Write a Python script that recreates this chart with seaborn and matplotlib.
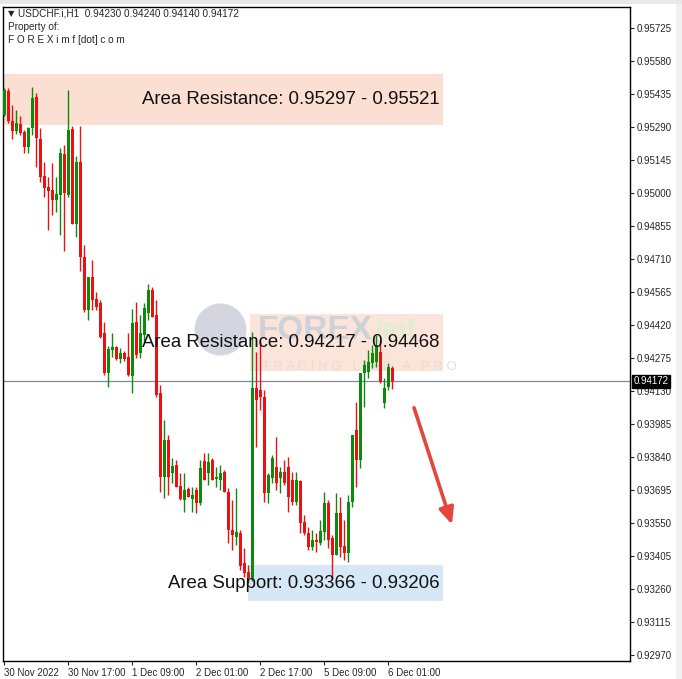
import numpy as np
import pandas as pd
import matplotlib
matplotlib.use("Agg")
import matplotlib.pyplot as plt
import seaborn as sns
from matplotlib.patches import Rectangle

# USDCHF H1 candles
opens = [0.95343, 0.95448, 0.95316, 0.95272, 0.95303, 0.95268, 0.95202, 0.95286, 0.95422, 0.95237,
         0.95075, 0.95026, 0.95013, 0.94969, 0.94991, 0.95171, 0.94991, 0.95281, 0.94864, 0.95136,
         0.94719, 0.94486, 0.94631, 0.94534, 0.94517, 0.94385, 0.94209, 0.94310, 0.94323, 0.94271,
         0.94297, 0.94279, 0.94196, 0.94433, 0.94297, 0.94376, 0.94473, 0.94574, 0.94464, 0.94121,
         0.93752, 0.93915, 0.93770, 0.93805, 0.93713, 0.93651, 0.93699, 0.93655, 0.93695, 0.93638,
         0.93822, 0.93770, 0.93827, 0.93743, 0.93739, 0.93774, 0.93686, 0.93519, 0.93488, 0.93506,
         0.93374, 0.93335, 0.93308, 0.94143, 0.94134, 0.94104, 0.93682, 0.93748, 0.93796, 0.93748,
         0.93774, 0.93796, 0.93739, 0.93642, 0.93735, 0.93554, 0.93506, 0.93444, 0.93475, 0.93462,
         0.93510, 0.93638, 0.93484, 0.93409, 0.93594, 0.93449, 0.93418, 0.93642, 0.93959, 0.93827,
         0.94209, 0.94213, 0.94253, 0.94257, 0.94301, 0.94077, 0.94148, 0.94230]
highs = [0.95461, 0.95461, 0.95387, 0.95365, 0.95338, 0.95277, 0.95290, 0.95466, 0.95439, 0.95286,
         0.95136, 0.95070, 0.95132, 0.95070, 0.95198, 0.95211, 0.95453, 0.95294, 0.95163, 0.95294,
         0.94772, 0.94631, 0.94706, 0.94565, 0.94530, 0.94433, 0.94328, 0.94385, 0.94328, 0.94319,
         0.94306, 0.94385, 0.94490, 0.94521, 0.94464, 0.94517, 0.94600, 0.94587, 0.94530, 0.94156,
         0.94003, 0.93937, 0.93836, 0.93827, 0.93770, 0.93770, 0.93708, 0.93708, 0.93708, 0.93827,
         0.93858, 0.93858, 0.93836, 0.93796, 0.93805, 0.93783, 0.93704, 0.93651, 0.93704, 0.93519,
         0.93440, 0.93365, 0.94389, 0.94301, 0.94354, 0.94134, 0.93770, 0.93849, 0.93928, 0.93796,
         0.93827, 0.93840, 0.93774, 0.93774, 0.93739, 0.93585, 0.93532, 0.93519, 0.93506, 0.93563,
         0.93686, 0.93651, 0.93497, 0.93682, 0.93664, 0.93563, 0.93673, 0.93937, 0.94082, 0.94209,
         0.94266, 0.94310, 0.94332, 0.94376, 0.94354, 0.94187, 0.94253, 0.94240]
lows = [0.95338, 0.95308, 0.95237, 0.95259, 0.95255, 0.95176, 0.95176, 0.95255, 0.95114, 0.95048,
        0.94982, 0.94837, 0.94903, 0.94917, 0.94815, 0.94745, 0.94982, 0.94864, 0.94807, 0.94657,
        0.94477, 0.94442, 0.94486, 0.94486, 0.94363, 0.94200, 0.94148, 0.94279, 0.94266, 0.94253,
        0.94262, 0.94196, 0.94121, 0.94275, 0.94275, 0.94345, 0.94442, 0.94455, 0.94104, 0.93686,
        0.93660, 0.93673, 0.93726, 0.93708, 0.93651, 0.93598, 0.93664, 0.93598, 0.93594, 0.93629,
        0.93739, 0.93717, 0.93739, 0.93708, 0.93695, 0.93686, 0.93462, 0.93431, 0.93453, 0.93343,
        0.93313, 0.93286, 0.93295, 0.93884, 0.94047, 0.93642, 0.93638, 0.93726, 0.93695, 0.93682,
        0.93717, 0.93598, 0.93629, 0.93629, 0.93506, 0.93497, 0.93431, 0.93431, 0.93423, 0.93453,
        0.93475, 0.93440, 0.93308, 0.93409, 0.93401, 0.93387, 0.93379, 0.93620, 0.93708, 0.93792,
        0.94060, 0.94187, 0.94231, 0.94235, 0.94165, 0.94055, 0.94134, 0.94140]
closes = [0.95453, 0.95316, 0.95272, 0.95308, 0.95264, 0.95202, 0.95286, 0.95417, 0.95242, 0.95070,
          0.95022, 0.95009, 0.94969, 0.94996, 0.95176, 0.95000, 0.95277, 0.94864, 0.95136, 0.94719,
          0.94486, 0.94631, 0.94530, 0.94499, 0.94367, 0.94209, 0.94315, 0.94323, 0.94271, 0.94297,
          0.94271, 0.94200, 0.94429, 0.94288, 0.94385, 0.94495, 0.94574, 0.94455, 0.94112, 0.93752,
          0.93915, 0.93752, 0.93800, 0.93708, 0.93655, 0.93695, 0.93664, 0.93673, 0.93638, 0.93792,
          0.93739, 0.93818, 0.93739, 0.93752, 0.93770, 0.93686, 0.93519, 0.93497, 0.93510, 0.93361,
          0.93330, 0.93308, 0.94143, 0.94090, 0.94104, 0.93682, 0.93761, 0.93836, 0.93726, 0.93774,
          0.93726, 0.93664, 0.93642, 0.93739, 0.93550, 0.93506, 0.93444, 0.93475, 0.93466, 0.93515,
          0.93638, 0.93475, 0.93409, 0.93594, 0.93444, 0.93418, 0.93642, 0.93937, 0.93827, 0.94209,
          0.94244, 0.94257, 0.94297, 0.94332, 0.94170, 0.94143, 0.94235, 0.94172]

price_ticks = [0.95725, 0.95580, 0.95435, 0.95290, 0.95145, 0.95000, 0.94855, 0.94710, 0.94565, 0.94420,
               0.94275, 0.94130, 0.93985, 0.93840, 0.93695, 0.93550, 0.93405, 0.93260, 0.93115, 0.92970]
time_tick_pos = [0, 16, 32, 48, 64, 80, 96]
time_tick_labels = ["30 Nov 2022", "30 Nov 17:00", "1 Dec 09:00", "2 Dec 01:00",
                    "2 Dec 17:00", "5 Dec 09:00", "6 Dec 01:00"]

res1 = (0.95297, 0.95521)
res2 = (0.94217, 0.94468)
sup1 = (0.93366, 0.93206)
last_price = 0.94172

df = pd.DataFrame({"open": opens, "high": highs, "low": lows, "close": closes})
df["idx"] = np.arange(len(df))
df["bull"] = df["close"] >= df["open"]

sns.set_style("white")
plt.rcParams["font.family"] = ["Liberation Sans", "DejaVu Sans"]

fig = plt.figure(figsize=(6.82, 6.79), dpi=100)
ax = fig.add_axes([3 / 682, 18 / 679, 627 / 682, 654 / 679])

green, red = "#0b8a0b", "#ee1010"

# zones
ax.add_patch(Rectangle((-0.25, res1[0]), 110, res1[1] - res1[0], color="#fbdfd2", zorder=0, lw=0))
ax.add_patch(Rectangle((61.5, res2[0]), 48.25, res2[1] - res2[0], color="#fbdfd2", zorder=0, lw=0, alpha=0.8))
ax.add_patch(Rectangle((61.0, sup1[1]), 48.75, sup1[0] - sup1[1], color="#d6e7f7", zorder=0, lw=0))

# faint watermark (logo)
ax.scatter([54], [0.94402], s=1400, color="#d4d5de", lw=0, zorder=0.5)
ax.text(63.5, 0.94395, "FOREX", fontsize=24, fontweight="bold", color="#d0d0d8", va="center",
        ha="left", zorder=0.6)
ax.text(92.5, 0.94395, "imf", fontsize=20, fontweight="bold", color="#dfeecf", va="center",
        ha="left", zorder=0.6)
ax.text(64.5, 0.94235, "T R A D I N G   L I K E   A   P R O", fontsize=9.5, color="#e6dcd4",
        va="center", ha="left", zorder=0.6)

# candles
for bull, col in [(True, green), (False, red)]:
    sub = df[df["bull"] == bull]
    ax.vlines(sub["idx"], sub["low"], sub["high"], color=col, lw=1, zorder=2)
    body = (sub["close"] - sub["open"]).abs().clip(lower=0.00002)
    ax.bar(sub["idx"], body, bottom=sub[["open", "close"]].min(axis=1), width=0.75,
           color=col, lw=0, zorder=3)

ax.axhline(last_price, color="#7d8a94", lw=0.9, zorder=1)

# zone labels
ax.text(108.8, sum(res1) / 2, f"Area Resistance: {res1[0]:.5f} - {res1[1]:.5f}", fontsize=13.4,
        ha="right", va="center", color="#111111", zorder=5)
ax.text(108.8, sum(res2) / 2, f"Area Resistance: {res2[0]:.5f} - {res2[1]:.5f}", fontsize=13.4,
        ha="right", va="center", color="#111111", zorder=5)
ax.text(108.8, sum(sup1) / 2, f"Area Support: {sup1[0]:.5f} - {sup1[1]:.5f}", fontsize=13.4,
        ha="right", va="center", color="#111111", zorder=5)

# arrow
ax.annotate("", xy=(112.2, 0.93532), xytext=(102.3, 0.94068),
            arrowprops=dict(arrowstyle="-|>,head_length=1.0,head_width=0.45", color="#e4463b", lw=2.6))

ax.set_xlim(-0.25, 156.5)
ax.set_ylim(0.92944, 0.95817)
for s in ["top", "left", "bottom", "right"]:
    ax.spines[s].set_color("black")
    ax.spines[s].set_linewidth(1)

ax.yaxis.tick_right()
ax.set_yticks(price_ticks)
ax.set_yticklabels([f"{p:.5f}" for p in price_ticks], fontsize=7)
ax.set_xticks(time_tick_pos)
ax.set_xticklabels(time_tick_labels, fontsize=7, ha="left")
ax.tick_params(axis="y", direction="out", length=3, width=0.8, pad=2, right=True, left=False)
ax.tick_params(axis="x", direction="out", length=3, width=0.8, pad=2, bottom=True)

# current price tag
ax.text(1.005, last_price, f"{last_price:.5f}", transform=ax.get_yaxis_transform(), fontsize=7,
        color="white", va="center", ha="left",
        bbox=dict(boxstyle="square,pad=0.15", fc="black", ec="black"), zorder=10, clip_on=False)

# header
fig.text(8 / 682, 1 - 14 / 679, "\u25bc", fontsize=6, va="center", family=["DejaVu Sans"])
fig.text(18 / 682, 1 - 14 / 679, "USDCHF.i,H1  0.94230 0.94240 0.94140 0.94172", fontsize=7.2, va="center")
fig.text(8 / 682, 1 - 27 / 679, "Property of:", fontsize=7.2, va="center")
fig.text(8 / 682, 1 - 40 / 679, "F O R E X i m f [dot] c o m", fontsize=7.2, va="center")

# window frame
fig.patches.append(Rectangle((676 / 682, 0), 6 / 682, 1, transform=fig.transFigure,
                             fc="#f0f0f0", ec="none", zorder=-1))
fig.patches.append(Rectangle((0, 675 / 679), 1, 4 / 679, transform=fig.transFigure,
                             fc="#e8e8e8", ec="none", zorder=-1))

fig.savefig("out.png", dpi=100, facecolor="white")
